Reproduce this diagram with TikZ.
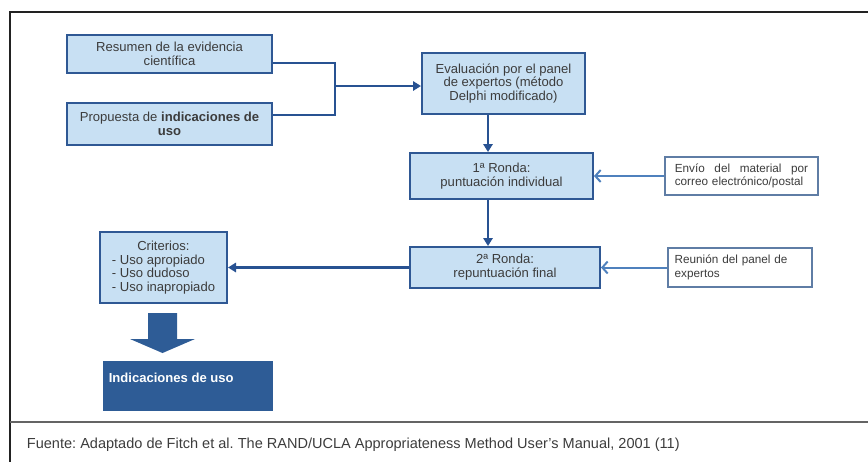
\documentclass[tikz,border=0pt]{standalone}
\usepackage{fontspec}
\setmainfont{Liberation Sans}
\usetikzlibrary{arrows.meta}

\definecolor{boxfill}{RGB}{200,224,243}
\definecolor{boxline}{RGB}{47,88,148}
\definecolor{linkblue}{RGB}{40,82,146}
\definecolor{feedblue}{RGB}{79,129,189}
\definecolor{sideline}{RGB}{95,125,165}
\definecolor{textgray}{RGB}{60,60,60}
\definecolor{darkbox}{RGB}{46,92,150}

\tikzset{every picture/.style={line width=0.75pt}}
\tikzset{
  stepbox/.style={draw=boxline, line width=1.5, fill=boxfill, text=textgray,
    font=\fontsize{9.8}{10.5}\selectfont, align=center, inner sep=0pt},
  sidebox/.style={draw=sideline, line width=0.9, fill=white, text=textgray,
    font=\fontsize{8.8}{10}\selectfont, align=left, inner sep=0pt},
  link/.style={draw=linkblue, line width=1.9, -{Triangle[length=6pt,width=7pt]}},
  joint/.style={draw=linkblue, line width=1.9},
  feed/.style={draw=feedblue, line width=1.5, -{Straight Barb[length=4pt,width=9pt]}},
}

\begin{document}
\frenchspacing
\begin{tikzpicture}[x=0.75pt,y=0.75pt,yscale=-1,xscale=1]
	\useasboundingbox (0,0) rectangle (868,462);

	%Frame
	\draw [line width=1, draw={rgb,255:red,34;green,34;blue,34}] (868,12) -- (10,12) -- (10,462) ;
	\draw [line width=1.1, draw={rgb,255:red,100;green,100;blue,100}] (10,422) -- (868,422) ;

	% Box: Resumen
	\node [stepbox, minimum width=153.75pt, minimum height=28.5pt] (res) at (169.5,54) {Resumen de la evidencia\\científica};
	% Box: Propuesta
	\node [stepbox, minimum width=153.75pt, minimum height=31.5pt] (prop) at (169.5,124) {Propuesta de \textbf{indicaciones de}\\\textbf{uso}};
	% Box: Evaluacion
	\node [stepbox, minimum width=122.25pt, minimum height=45.75pt, font=\fontsize{9.8}{10.2}\selectfont] (eval) at (503.5,83.5) {Evaluación por el panel\\de expertos (método\\Delphi modificado)};
	% Box: 1a Ronda
	\node [stepbox, minimum width=137.25pt, minimum height=34.5pt] (ronda1) at (501.5,176) {1ª Ronda:\\puntuación individual};
	% Box: 2a Ronda
	\node [stepbox, minimum width=142.5pt, minimum height=30.75pt] (ronda2) at (505,267.5) {2ª Ronda:\\repuntuación final};
	% Box: Criterios
	\node [stepbox, minimum width=95.25pt, minimum height=53.25pt, align=left, font=\fontsize{9.8}{10.3}\selectfont] (crit) at (163.5,267.5) {\hspace*{19pt}Criterios:\\- Uso apropiado\\- Uso dudoso\\- Uso inapropiado};
	% Box: Indicaciones de uso
	\node [fill=darkbox, minimum width=127.5pt, minimum height=37.5pt, inner sep=0pt] (ind) at (188,386) {};
	\node [anchor=west, text=white, font=\fontsize{9.8}{11}\selectfont\bfseries] (indtxt) at ([xshift=1pt,yshift=-6.5pt]ind.west) {Indicaciones de uso};

	% Side boxes
	\node [sidebox, minimum width=114.75pt, minimum height=28.5pt, text width=100pt] (envio) at (741.5,176) {Envío\hfill del\hfill material\hfill por\\correo electrónico/postal};
	\node [sidebox, minimum width=108pt, minimum height=29.25pt, text width=98pt] (reunion) at (740,267.5) {Reunión del panel de\\expertos};

	%Joint
	\coordinate (join) at (335,86);
	\coordinate (drop) at (488,0);
	\draw [joint] ([yshift=6.75pt]res.east) -| (join);
	\draw [joint] ([yshift=-6.75pt]prop.east) -| (join);

	%Straight Lines
	\draw [link] (join) -- (join -| eval.west);
	\draw [link] (eval.south -| drop) -- (ronda1.north -| drop);
	\draw [link] (ronda1.south -| drop) -- (ronda2.north -| drop);
	\draw [link] (ronda2.west) -- (crit.east);
	\draw [feed] (envio.west) -- (ronda1.east);
	\draw [feed] (reunion.west) -- (ronda2.east);

	%Block arrow
	\fill [darkbox] (148,313) -- (177,313) -- (177,339) -- (195,339) -- (162.5,353) -- (130,339) -- (148,339) -- cycle ;

	% Text Node
	\node [anchor=west, text=textgray, font=\fontsize{10.9}{12}\selectfont] (fuente) at (22,445) {Fuente: Adaptado de Fitch et al. The RAND/UCLA Appropriateness Method User’s Manual, 2001 (11)};

\end{tikzpicture}
\end{document}
